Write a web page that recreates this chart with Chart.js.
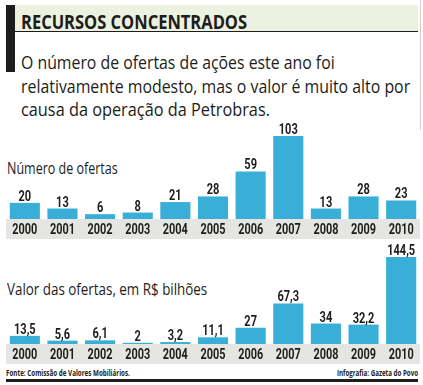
<!DOCTYPE html>
<html lang="pt-BR">
<head>
<meta charset="utf-8">
<script src="https://cdn.jsdelivr.net/npm/chart.js@4.4.1/dist/chart.umd.min.js"></script>
<style>
  body { margin: 0; background: #fff; width: 423px; height: 385px; overflow: hidden; position: relative; font-family: "Open Sans", sans-serif; color: #1d1d1b; }
  .abs { position: absolute; white-space: nowrap; }
  .fit { display: inline-block; transform-origin: 0 0; }
  canvas { position: absolute; }
</style>
</head>
<body>
<!-- header -->
<div class="abs" style="left:6px;top:5px;width:9px;height:67px;background:#1d1d1b"></div>
<div class="abs" style="left:15px;top:5px;width:403px;height:26px;background:#edf1df;border-bottom:1.5px solid #1d1d1b"></div>
<div class="abs" style="left:420px;top:0;width:1px;height:130px;background:#cfcfcf"></div>
<div class="abs fit" data-w="226" style="left:21px;top:11.7px;font:bold 20px/20px 'Open Sans'">RECURSOS CONCENTRADOS</div>

<div class="abs fit" data-w="314" style="left:21px;top:51.3px;font:18px/23.5px 'Open Sans'">O número de ofertas de ações este ano foi</div>
<div class="abs fit" data-w="389" style="left:21px;top:74.8px;font:18px/23.5px 'Open Sans'">relativamente modesto, mas o valor é muito alto por</div>
<div class="abs fit" data-w="249" style="left:21px;top:98.3px;font:18px/23.5px 'Open Sans'">causa da operação da Petrobras.</div>

<div class="abs fit" data-w="111" style="left:7px;top:158.9px;font:17px/17px 'Open Sans'">Número de ofertas</div>
<div class="abs fit" data-w="200" style="left:7px;top:279.9px;font:17px/17px 'Open Sans'">Valor das ofertas, em R$ bilhões</div>

<canvas id="chart-count" width="414" height="121" style="left:6px;top:118px;width:414px;height:121px"></canvas>
<canvas id="chart-value" width="414" height="124" style="left:6px;top:240px;width:414px;height:124px"></canvas>

<!-- footer -->
<div class="abs fit" data-w="124" style="left:6px;top:368px;font:bold 9px/9px 'Open Sans'">Fonte: Comissão de Valores Mobiliários.</div>
<div class="abs fit" data-w="81" style="left:337px;top:368px;font:bold 9px/9px 'Open Sans'">Infografia: Gazeta do Povo</div>
<div class="abs" style="left:6px;top:379px;width:412px;height:3px;background:#1d1d1b"></div>

<script>
// Data
const years = ["2000", "2001", "2002", "2003", "2004", "2005", "2006", "2007", "2008", "2009", "2010"];
const offerCounts = [20, 13, 6, 8, 21, 28, 59, 103, 13, 28, 23];
const offerValues = [13.5, 5.6, 6.1, 2, 3.2, 11.1, 27, 67.3, 34, 32.2, 144.5];

const barColor = "#39afd7";
const bandColor = "#e5e6e3";
const textColor = "#1d1d1b";
const yearFont = "bold 14px Roboto, sans-serif";
const valueFont = "bold 15px Roboto, sans-serif";

// Squeeze text to the widths measured on the original
document.querySelectorAll(".fit").forEach((el) => {
  const natural = el.offsetWidth;
  const target = parseFloat(el.dataset.w);
  el.style.transform = "scaleX(" + target / natural + ")";
});

// condensed text: draw squeezed horizontally so "sample" ends up targetWidth wide
function squeezedText(ctx, text, x, y, sample, targetWidth) {
  const k = targetWidth / ctx.measureText(sample).width;
  ctx.save();
  ctx.translate(x, y);
  ctx.scale(k, 1);
  ctx.fillText(text, 0, 0);
  ctx.restore();
}

// Gray band with the year labels
const bandPlugin = {
  id: "band",
  beforeDraw(chart) {
    const x = chart.scales.x;
    const ctx = chart.ctx;
    ctx.save();
    ctx.fillStyle = bandColor;
    ctx.fillRect(0, x.top, chart.width, x.height);
    ctx.fillStyle = textColor;
    ctx.font = yearFont;
    ctx.textAlign = "center";
    ctx.textBaseline = "alphabetic";
    x.getLabels().forEach((label, i) => {
      squeezedText(ctx, label, x.getPixelForTick(i), x.top + 14.5, "2000", 25);
    });
    ctx.restore();
  },
};

// Numbers above the bars
const valueLabels = {
  id: "valueLabels",
  afterDatasetsDraw(chart) {
    const ctx = chart.ctx;
    const data = chart.data.datasets[0].data;
    ctx.save();
    ctx.fillStyle = textColor;
    ctx.font = valueFont;
    ctx.textAlign = "center";
    ctx.textBaseline = "alphabetic";
    chart.getDatasetMeta(0).data.forEach((bar, i) => {
      const label = String(data[i]).replace(".", ",");
      squeezedText(ctx, label, bar.x, bar.y - 2, "103", 19);
    });
    ctx.restore();
  },
};

function makeChart(id, values, max) {
  return new Chart(document.getElementById(id), {
    type: "bar",
    data: {
      labels: years,
      datasets: [
        {
          data: values,
          backgroundColor: barColor,
          borderWidth: 0,
          barPercentage: 0.8,
          categoryPercentage: 1,
        },
      ],
    },
    options: {
      responsive: false,
      animation: false,
      devicePixelRatio: 1,
      layout: { padding: 0 },
      plugins: { legend: { display: false }, tooltip: { enabled: false } },
      scales: {
        x: {
          grid: { display: false, drawTicks: false },
          border: { display: false },
          ticks: { display: false },
          afterFit(scale) {
            scale.height = 20;
          },
        },
        y: { display: false, min: 0, max: max },
      },
    },
    plugins: [bandPlugin, valueLabels],
  });
}

makeChart("chart-count", offerCounts, 125.3);
makeChart("chart-value", offerValues, 172.7);
</script>
</body>
</html>
